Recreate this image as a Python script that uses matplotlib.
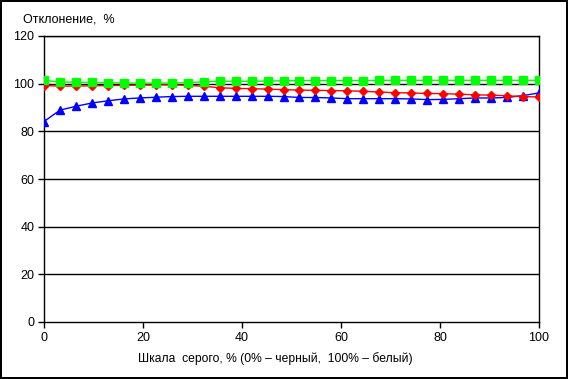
import matplotlib
matplotlib.use('Agg')
import matplotlib.pyplot as plt

plt.rcParams['font.family'] = ['Liberation Sans', 'DejaVu Sans']

# Gray level, % (32 measured steps)
gray = [0, 3.23, 6.45, 9.68, 12.9, 16.13, 19.35, 22.58, 25.81, 29.03,
        32.26, 35.48, 38.71, 41.94, 45.16, 48.39, 51.61, 54.84, 58.06, 61.29,
        64.52, 67.74, 70.97, 74.19, 77.42, 80.65, 83.87, 87.1, 90.32, 93.55,
        96.77, 100]

green = [101.4, 100.7, 100.6, 100.5, 100.4, 100.3, 100.2, 100.2, 100.3, 100.4,
         100.8, 101.0, 101.0, 101.0, 101.1, 101.2, 101.3, 101.3, 101.3, 101.3,
         101.3, 101.4, 101.4, 101.4, 101.4, 101.4, 101.4, 101.4, 101.4, 101.4,
         101.4, 101.4]

red = [99.2, 99.0, 99.0, 99.1, 99.2, 99.3, 99.4, 99.5, 99.5, 99.3,
       98.9, 98.3, 98.0, 97.9, 97.7, 97.5, 97.3, 97.2, 97.1, 97.0,
       96.8, 96.5, 96.2, 96.1, 95.9, 95.8, 95.6, 95.3, 95.2, 94.9,
       94.6, 94.4]

blue = [84.1, 88.9, 90.5, 91.9, 92.8, 93.6, 94.0, 94.3, 94.6, 94.7,
        94.7, 94.7, 94.7, 94.7, 94.7, 94.6, 94.2, 94.2, 94.0, 93.7,
        93.7, 93.7, 93.7, 93.6, 93.3, 93.4, 93.7, 94.0, 94.0, 94.2,
        95.0, 96.1]

x_ticks = [0, 20, 40, 60, 80, 100]
y_ticks = [0, 20, 40, 60, 80, 100, 120]

fig = plt.figure(figsize=(5.68, 3.79), dpi=100, edgecolor='black', linewidth=1.5)
ax = fig.add_axes([44 / 568, 1 - 322 / 379, 495 / 568, 286 / 379])

for y in y_ticks[1:]:
    ax.axhline(y, color='black', lw=1, zorder=1)

ax.plot(gray, blue, color='#0000ff', lw=1, marker='^', ms=6, mec='#0000ff', zorder=3)
ax.plot(gray, red, color='#ff0000', lw=1, marker='D', ms=4.5, mec='#ff0000', zorder=4)
ax.plot(gray, green, color='#00ff00', lw=1, marker='s', ms=5.5, mec='#00ff00', zorder=5)

ax.set_xlim(0, 100)
ax.set_ylim(0, 120)
ax.set_xticks(x_ticks)
ax.set_yticks(y_ticks)
ax.tick_params(direction='out', length=4, width=1, labelsize=9, pad=3)
for s in ax.spines.values():
    s.set_linewidth(1)
    s.set_color('black')

fig.text(275 / 568, 1 - 359 / 379, 'Шкала  серого, % (0% – черный,  100% – белый)',
         fontsize=8.7, ha='center', va='center')
fig.text(23 / 568, 1 - 19 / 379, 'Отклонение,  %', fontsize=9, ha='left', va='center')

fig.savefig('out.png', dpi=100, edgecolor=fig.get_edgecolor())
